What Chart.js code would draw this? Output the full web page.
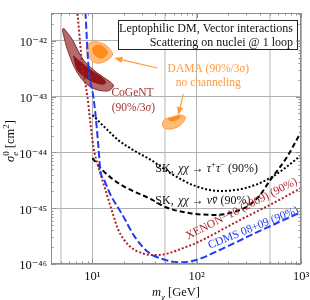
<!DOCTYPE html>
<html><head><meta charset="utf-8">
<script src="https://cdn.jsdelivr.net/npm/chart.js@4.4.0/dist/chart.umd.min.js"></script>
<style>html,body{margin:0;padding:0;background:#fff;}#wrap{width:310px;height:300px;}</style>
</head><body><div id="wrap"><canvas id="c" width="310" height="300"></canvas></div>
<script>
// ---- axis ticks ----
const xTicks = [5, 10, 50, 100, 500, 1000];
const xLabelTicks = [10, 100, 1000];
const yTicks = [1e-46, 1e-45, 1e-44, 1e-43, 1e-42];

// ---- curves ----
const cdmsMass  = [8.45, 8.57, 9.16, 10.2, 10.7, 11.4, 11.9, 13.0, 14.9, 19.4, 25.2, 34.3, 46.8, 66.5, 96.8, 179, 380, 785, 1000];
const cdmsSigma = [5e-42, 3.16e-42, 3.39e-43, 9.8e-44, 4.68e-44, 1.26e-44, 4.79e-45, 3.16e-45, 1.74e-45, 7.59e-46, 3.16e-46, 1.62e-46, 1.23e-46, 1.07e-46, 1.17e-46, 1.91e-46, 3.72e-46, 6.92e-46, 8.51e-46];

const xenonMass  = [7.02, 7.18, 8.02, 8.96, 9.36, 10.2, 11.4, 13.3, 15.5, 17.7, 22.1, 30.1, 40.1, 53.3, 77.6, 96.8, 261, 540, 1000];
const xenonSigma = [5e-42, 3.16e-42, 3.39e-43, 9.8e-44, 4.68e-44, 1.26e-44, 5.5e-45, 2.14e-45, 8.5e-46, 4.07e-46, 2.19e-46, 1.55e-46, 1.45e-46, 1.55e-46, 2.0e-46, 2.34e-46, 6.17e-46, 1.23e-45, 2.29e-45];

const skTauMass  = [10, 13.3, 17.7, 25.8, 37.5, 55.7, 96.8, 168, 291, 505, 703, 1000];
const skTauSigma = [4.68e-44, 2.75e-44, 1.66e-44, 1.05e-44, 7.08e-45, 4.27e-45, 2.51e-45, 2.04e-45, 2.29e-45, 3.47e-45, 5.25e-45, 8.91e-45];

const skNuMass  = [10, 12.5, 17.7, 37.5, 50, 86.7, 150, 244, 325, 405, 505, 735, 1000];
const skNuSigma = [7.94e-45, 4.79e-45, 2.82e-45, 1.41e-45, 1.05e-45, 8.13e-46, 7.59e-46, 8.91e-46, 1.17e-45, 1.74e-45, 3.16e-45, 8.32e-45, 2.34e-44];

// ---- regions ----
const cogentOuterMass  = [5.28, 5.77, 6.44, 8.20, 11.16, 14.87, 15.89, 13.92, 9.57, 7.19, 5.77, 5.28, 5.16, 5.28];
const cogentOuterSigma = [1.70e-42, 1.38e-42, 1.04e-42, 4.54e-43, 2.65e-43, 1.83e-43, 1.55e-43, 1.26e-43, 1.49e-43, 2.65e-43, 6.86e-43, 1.27e-42, 1.57e-42, 1.70e-42];
const cogentInnerMass  = [6.58, 7.19, 8.96, 11.93, 13.32, 12.46, 9.57, 7.68, 6.58];
const cogentInnerSigma = [5.36e-43, 3.01e-43, 2.07e-43, 1.68e-43, 1.75e-43, 2.16e-43, 3.01e-43, 4.18e-43, 5.36e-43];

const damaAOuterMass  = [8.76, 9.36, 11.16, 13.32, 14.87, 15.54, 13.92, 11.93, 10.22, 9.16, 8.76, 8.76];
const damaAOuterSigma = [7.76e-43, 9.16e-43, 9.55e-43, 8.43e-43, 6.86e-43, 5.58e-43, 4.54e-43, 4.01e-43, 4.18e-43, 5.36e-43, 6.86e-43, 7.76e-43];
const damaAInnerMass  = [10.0, 11.16, 12.74, 13.92, 12.46, 11.16, 10.22, 10.0];
const damaAInnerSigma = [7.45e-43, 8.43e-43, 7.76e-43, 6.07e-43, 4.93e-43, 5.14e-43, 6.07e-43, 7.45e-43];

const damaBOuterMass  = [46.8, 49.9, 58.3, 69.5, 77.6, 74.3, 65.1, 53.4, 47.8, 46.8];
const damaBOuterSigma = [3.37e-44, 3.97e-44, 4.31e-44, 4.68e-44, 4.31e-44, 3.51e-44, 2.85e-44, 2.62e-44, 2.85e-44, 3.37e-44];
const damaBInnerMass  = [53.4, 69.5, 66.5, 55.8, 53.4];
const damaBInnerSigma = [3.97e-44, 4.50e-44, 3.97e-44, 3.66e-44, 3.97e-44];

// ---- styling ----
const FONT = '"Liberation Serif", "DejaVu Serif", "Times New Roman", serif';
const BLUE = '#1f3cf5', XRED = '#ad2228', CORED = '#a33232', ORANGE = '#ff9a3c';
const SUP = {'-':'\u207B','0':'\u2070','1':'\u00B9','2':'\u00B2','3':'\u00B3','4':'\u2074','5':'\u2075','6':'\u2076','7':'\u2077','8':'\u2078','9':'\u2079'};
const sup = s => String(s).split('').map(c => SUP[c] || c).join('');
const pts = (ms, ss) => ms.map((m, i) => ({x: m, y: ss[i]}));

function fnt(size, it) { return (it ? 'italic ' : '') + size + 'px ' + FONT; }
function drawRuns(ctx, runs, x, y, size, color, align, rotDeg) {
  ctx.save();
  ctx.translate(x, y);
  if (rotDeg) ctx.rotate(rotDeg * Math.PI / 180);
  ctx.fillStyle = color; ctx.textBaseline = 'alphabetic'; ctx.textAlign = 'left';
  const small = size * 0.72;
  const items = runs.map(r => {
    const s = (r.sub || r.sup) ? small : size;
    ctx.font = fnt(s, r.it);
    let w = ctx.measureText(r.t).width + (r.pad || 0);
    if (r.stack) { ctx.font = fnt(small, false); w = Math.max(w, ctx.measureText(r.stack).width); }
    return {r, s, w};
  });
  const total = items.reduce((a, b) => a + b.w, 0);
  let cx = align === 'center' ? -total / 2 : align === 'right' ? -total : 0;
  const base = size * 0.33;
  for (const it of items) {
    const r = it.r;
    ctx.font = fnt(it.s, r.it);
    const dy = base + (r.sub ? size * 0.28 : r.sup ? -size * 0.4 : 0);
    ctx.fillText(r.t, cx, dy);
    if (r.bar) { const bw = ctx.measureText(r.t).width; ctx.fillRect(cx + bw * 0.2, dy - size * 0.6, bw * 0.75, 0.9); }
    if (r.stack) { ctx.font = fnt(small, false); ctx.fillText(r.stack, cx, base - size * 0.4); }
    cx += it.w;
  }
  ctx.restore();
}

const notes = [
  {runs: [{t: 'CoGeNT'}], m: 24.2, s: 1.21e-43, color: CORED, align: 'center', size: 11.5},
  {runs: [{t: '(90%/3'}, {t: '\u03C3', it: true}, {t: ')'}], m: 24.7, s: 6.5e-44, color: CORED, align: 'center', size: 11.5},
  {runs: [{t: 'DAMA (90%/3'}, {t: '\u03C3', it: true}, {t: ')'}], m: 129, s: 3.26e-43, color: ORANGE, align: 'center', size: 11.5},
  {runs: [{t: 'no channeling'}], m: 129, s: 1.83e-43, color: ORANGE, align: 'center', size: 11.5},
  {runs: [{t: 'SK, ', pad: 1.5}, {t: '\u03C7\u03C7', it: true}, {t: ' \u2192 '}, {t: '\u03C4', it: true}, {t: '+', sup: true}, {t: '\u03C4', it: true}, {t: '\u2212', sup: true}, {t: ' (90%)'}], m: 40.1, s: 5.25e-45, color: '#111', align: 'left', size: 12},
  {runs: [{t: 'SK, ', pad: 1.5}, {t: '\u03C7\u03C7', it: true}, {t: ' \u2192 '}, {t: '\u03BD', it: true}, {t: '\u03BD', it: true, bar: true}, {t: ' (90%)'}], m: 40.1, s: 1.40e-45, color: '#111', align: 'left', size: 12},
  {runs: [{t: 'XENON\u221210 (2009) (90%)'}], m: 267, s: 1.0e-45, color: XRED, align: 'center', size: 11.5, rot: -27},
  {runs: [{t: 'CDMS 08+09 (90%)'}], m: 347, s: 4.57e-46, color: BLUE, align: 'center', size: 11.5, rot: -22}
];
const arrows = [
  {from: [41.9, 3.26e-43], to: [16.2, 4.93e-43]},
  {from: [74.3, 1.11e-43], to: [66.5, 4.68e-44]}
];

function region(ms, ss, fillC, lineC, ord) {
  return {data: pts(ms, ss), showLine: true, fill: 'shape', backgroundColor: fillC, borderColor: lineC,
          borderWidth: 1, pointRadius: 0, tension: 0.35, order: ord};
}
function curve(ms, ss, color, dash) {
  return {data: pts(ms, ss), showLine: true, fill: false, borderColor: color, borderWidth: 2, borderDash: dash,
          borderCapStyle: 'butt', pointRadius: 0, cubicInterpolationMode: 'monotone', order: 1};
}

const decor = {
  id: 'decor',
  beforeDraw(chart) {
    const c = chart.ctx; c.save(); c.fillStyle = '#fff'; c.fillRect(0, 0, chart.width, chart.height); c.restore();
  },
  afterDatasetsDraw(chart) {
    const ctx = chart.ctx, X = chart.scales.x, Y = chart.scales.y, a = chart.chartArea;
    ctx.save();
    ctx.strokeStyle = ORANGE; ctx.fillStyle = ORANGE; ctx.lineWidth = 1.2;
    for (const ar of arrows) {
      const x1 = X.getPixelForValue(ar.from[0]), y1 = Y.getPixelForValue(ar.from[1]);
      const x2 = X.getPixelForValue(ar.to[0]), y2 = Y.getPixelForValue(ar.to[1]);
      const ang = Math.atan2(y2 - y1, x2 - x1), L = 8, W = 3.2;
      const bx = x2 - L * Math.cos(ang), by = y2 - L * Math.sin(ang);
      ctx.beginPath(); ctx.moveTo(x1, y1); ctx.lineTo(bx, by); ctx.stroke();
      ctx.beginPath(); ctx.moveTo(x2, y2);
      ctx.lineTo(bx + W * Math.sin(ang), by - W * Math.cos(ang));
      ctx.lineTo(bx - W * Math.sin(ang), by + W * Math.cos(ang));
      ctx.closePath(); ctx.fill();
    }
    for (const n of notes) {
      drawRuns(ctx, n.runs, X.getPixelForValue(n.m), Y.getPixelForValue(n.s), n.size, n.color, n.align, n.rot || 0);
    }
    const bl = a.left + 67, br = a.right - 4.5, bt = a.top + 7, bb = a.top + 36;
    ctx.fillStyle = '#fff'; ctx.fillRect(bl, bt, br - bl, bb - bt);
    ctx.strokeStyle = '#222'; ctx.lineWidth = 1; ctx.strokeRect(Math.round(bl) + 0.5, Math.round(bt) + 0.5, Math.round(br - bl), Math.round(bb - bt));
    drawRuns(ctx, [{t: 'Leptophilic DM, Vector interactions'}], br - 3.5, bt + 8, 12, '#111', 'right');
    drawRuns(ctx, [{t: 'Scattering on nuclei @ 1 loop'}], br - 3.5, bt + 22.5, 12, '#111', 'right');
    ctx.restore();
  },
  afterDraw(chart) {
    const ctx = chart.ctx, X = chart.scales.x, Y = chart.scales.y, a = chart.chartArea;
    ctx.save();
    ctx.strokeStyle = '#8e8e8e'; ctx.lineWidth = 1;
    ctx.strokeRect(Math.round(a.left) + 0.5, Math.round(a.top) + 0.5, Math.round(a.right - a.left) - 1, Math.round(a.bottom - a.top) - 1);
    ctx.beginPath();
    for (let d = 0; d <= 3; d++) for (let k = 1; k <= 9; k++) {
      const v = k * Math.pow(10, d); if (v < 4 || v > 1000) continue;
      const p = Math.round(X.getPixelForValue(v)) + 0.5, L = k === 1 ? 5 : 2.5;
      ctx.moveTo(p, a.bottom); ctx.lineTo(p, a.bottom - L);
      ctx.moveTo(p, a.top); ctx.lineTo(p, a.top + L);
    }
    for (let e = -46; e <= -42; e++) for (let k = 1; k <= 9; k++) {
      const v = k * Math.pow(10, e); if (v > Math.pow(10, -41.5)) continue;
      const p = Math.round(Y.getPixelForValue(v)) + 0.5, L = k === 1 ? 5 : 2.5;
      ctx.moveTo(a.left, p); ctx.lineTo(a.left + L, p);
      ctx.moveTo(a.right, p); ctx.lineTo(a.right - L, p);
    }
    ctx.stroke();
    drawRuns(ctx, [{t: 'm', it: true}, {t: '\u03C7', it: true, sub: true}, {t: ' [GeV]'}], 176, 292, 12.5, '#111', 'center');
    drawRuns(ctx, [{t: '\u03C3', it: true}, {t: 'e', it: true, sub: true, stack: '0'}, {t: ' [cm'}, {t: '2', sup: true}, {t: ']'}], 10, 141, 12.5, '#111', 'center', -90);
    ctx.restore();
  }
};

new Chart(document.getElementById('c'), {
  type: 'scatter',
  data: {datasets: [
    curve(cdmsMass, cdmsSigma, BLUE, [7, 3]),
    curve(xenonMass, xenonSigma, XRED, [2, 2]),
    curve(skTauMass, skTauSigma, '#000', [2, 2]),
    curve(skNuMass, skNuSigma, '#000', [5, 3]),
    region(cogentInnerMass, cogentInnerSigma, '#8e1518', '#8e1518', 2),
    region(cogentOuterMass, cogentOuterSigma, '#b36a6a', '#8b2e2e', 3),
    region(damaAInnerMass, damaAInnerSigma, '#ff8c1a', '#ff8c1a', 2),
    region(damaAOuterMass, damaAOuterSigma, '#ffbb7a', '#ff9a3c', 3),
    region(damaBInnerMass, damaBInnerSigma, '#ff8c1a', '#ff8c1a', 2),
    region(damaBOuterMass, damaBOuterSigma, '#ffbb7a', '#ff9a3c', 3)
  ]},
  options: {
    responsive: false, devicePixelRatio: 1, animation: false,
    layout: {padding: {top: 13, right: 9, left: 0, bottom: 0}},
    plugins: {legend: {display: false}, tooltip: {enabled: false}},
    scales: {
      x: {
        type: 'logarithmic', min: 4, max: 1000,
        afterBuildTicks: s => { s.ticks = xTicks.map(v => ({value: v})); },
        afterFit: s => { s.height = 36; s.paddingLeft = 0; s.paddingRight = 0; },
        border: {display: false},
        grid: {drawTicks: false,
          color: c => [5, 50, 500].includes(c.tick && c.tick.value) ? '#d6d6d6' : '#b2b2b2',
          lineWidth: c => [5, 50, 500].includes(c.tick && c.tick.value) ? 1.8 : 1},
        ticks: {autoSkip: false, maxRotation: 0, padding: 5, color: '#111', font: {family: FONT, size: 12.5},
          callback: v => xLabelTicks.includes(v) ? '10' + sup(Math.round(Math.log10(v))) : ''}
      },
      y: {
        type: 'logarithmic', min: 1e-46, max: Math.pow(10, -41.5),
        afterBuildTicks: s => { s.ticks = yTicks.map(v => ({value: v})); },
        afterFit: s => { s.width = 51; s.paddingTop = 0; s.paddingBottom = 0; },
        border: {display: false},
        grid: {drawTicks: false, color: '#b2b2b2', lineWidth: 1},
        ticks: {autoSkip: false, padding: 4, labelOffset: 2, color: '#111', font: {family: FONT, size: 12.5},
          callback: v => '10' + sup(Math.round(Math.log10(v)))}
      }
    }
  },
  plugins: [decor]
});
</script>
</body></html>
